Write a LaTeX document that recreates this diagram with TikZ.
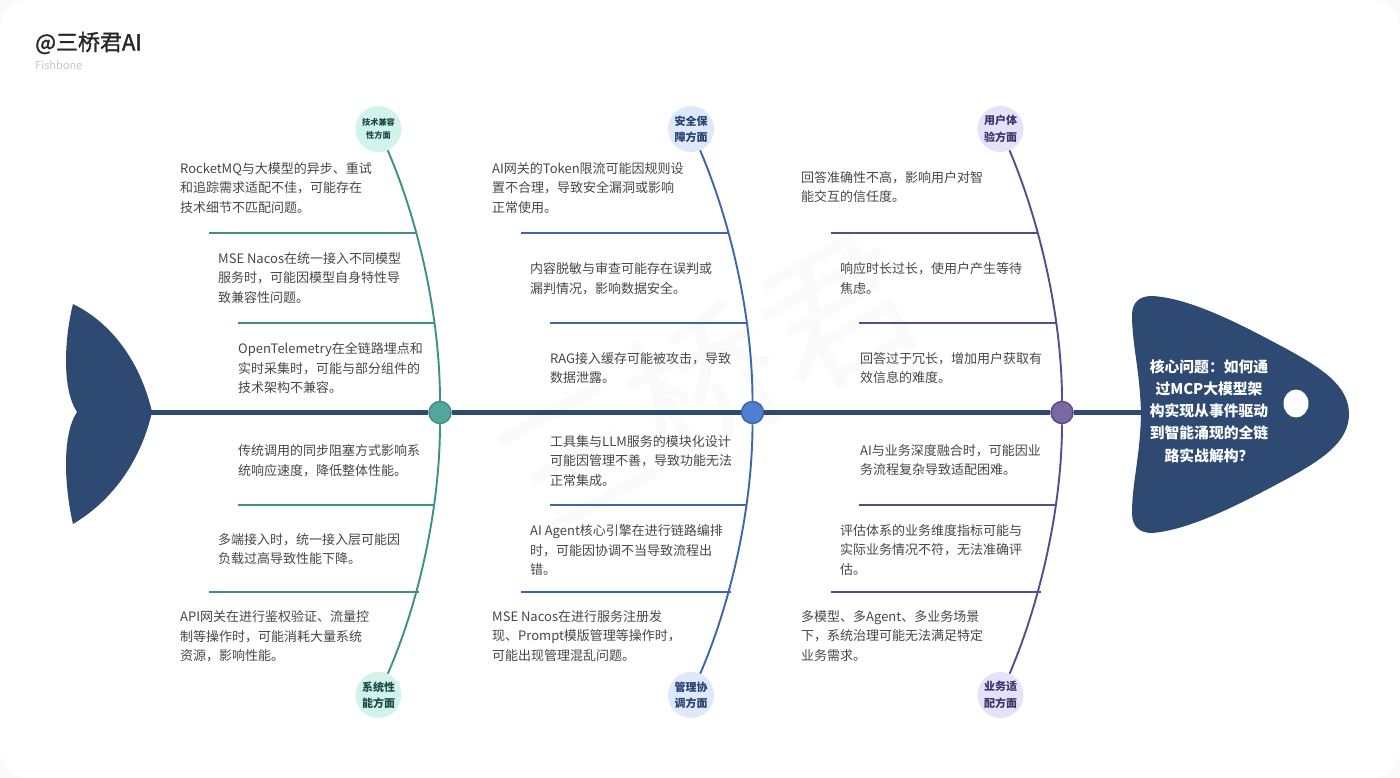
\documentclass[tikz,border=0pt]{standalone}
\usepackage{fontspec}
\setmainfont{Noto Sans CJK SC}
\newfontfamily\titlefont[FakeBold=1.5]{Noto Sans CJK SC}
\newcommand{\zhc}{\char"FF0C\relax}
\newcommand{\zhd}{\char"FF1A\relax}
\newcommand{\zhq}{\char"FF1F\relax}
\tikzset{
  ribtext/.style={anchor=north west,align=left,inner sep=0pt,text=black!72,font=\fontsize{13}{19.8}\selectfont},
  head/.style={circle,minimum size=46pt,inner sep=0pt,align=center,font=\fontsize{11}{16.4}\bfseries\selectfont,execute at begin node={\rule{0pt}{16.5pt}}},
  joint/.style={circle,minimum size=22pt,inner sep=0pt,line width=1.5pt},
  bone/.style={line width=1.9pt},
  rib/.style={line width=1.6pt},
}
\definecolor{fishblue}{HTML}{2F4A72}
\definecolor{tealbone}{HTML}{3F8F87}
\definecolor{tealfill}{HTML}{55A79D}
\definecolor{teallight}{HTML}{D2F2EC}
\definecolor{tealtext}{HTML}{1C4A44}
\definecolor{bluebone}{HTML}{3D66AD}
\definecolor{bluefill}{HTML}{4F80CF}
\definecolor{bluelight}{HTML}{DDE8FB}
\definecolor{bluetext}{HTML}{27406E}
\definecolor{purplebone}{HTML}{5A4A8F}
\definecolor{purplefill}{HTML}{7B6AA0}
\definecolor{purplelight}{HTML}{E3E2F8}
\definecolor{purpletext}{HTML}{3A3468}
\begin{document}
\begin{tikzpicture}[x=1pt,y=-1pt]
\useasboundingbox (0,0) rectangle (1400,778);
\fill[black!2] (0,0) rectangle (1400,778);
\fill[white,rounded corners=28pt] (0,0) rectangle (1400,778);

% watermark
\node[rotate=29,text=black!1.8,font=\fontsize{150}{150}\selectfont,inner sep=0pt] (mark) at (705,385) {三桥君};

% title
\node[anchor=west,inner sep=0pt,font=\fontsize{22}{22}\titlefont\selectfont,text=black!85] (title) at (35,43) {@三桥君AI};
\node[anchor=west,inner sep=0pt,font=\fontsize{11}{11}\selectfont,text=black!22] (subtitle) at (35,65.5) {Fishbone};

% tail and head
\fill[fishblue] (152,412) .. controls (140,360) and (110,322) .. (73,304) .. controls (65,335) and (61,388) .. (77,412) .. controls (61,436) and (65,490) .. (73,524) .. controls (110,502) and (140,464) .. (152,412) -- cycle;
\fill[fishblue] (1141,414) .. controls (1140,370) and (1132,345) .. (1132,315) .. controls (1132,302) and (1140,296) .. (1152,296) .. controls (1190,298) and (1240,324) .. (1283,347) .. controls (1320,367) and (1349,385) .. (1349,414) .. controls (1349,443) and (1320,461) .. (1283,481) .. controls (1240,504) and (1190,530) .. (1152,533) .. controls (1140,533) and (1132,527) .. (1132,513) .. controls (1132,483) and (1140,458) .. (1141,414) -- cycle;
\fill[white] (1296,403.5) ellipse (12.5 and 14);
\node[inner sep=0pt,align=center,text=white,font=\fontsize{14.8}{22.3}\bfseries\selectfont] (problem) at (1209,411) {核心问题\zhd 如何通\\过MCP大模型架\\构实现从事件驱动\\到智能涌现的全链\\路实战解构\zhq};
\coordinate (tailjoint) at (150,412.5);
\coordinate (headjoint) at (1142,412.5);

% joints on the spine
\node[joint,fill=tealfill,draw=tealbone] (tj) at (440,412.5) {};
\node[joint,fill=bluefill,draw=bluebone] (bj) at (752.5,412.5) {};
\node[joint,fill=purplefill,draw=purplebone] (pj) at (1062,412.5) {};
\draw[line width=5.5pt,fishblue] (tailjoint)--(tj);
\draw[line width=5.5pt,fishblue] (tj)--(bj);
\draw[line width=5.5pt,fishblue] (bj)--(pj);
\draw[line width=5.5pt,fishblue] (pj)--(headjoint);

% circles
\node[head,fill=teallight,text=tealtext,font=\fontsize{8.2}{13}\bfseries\selectfont,execute at begin node={\rule{0pt}{12.5pt}}] (techcompat) at (378.5,129) {技术兼容\\性方面};
\node[head,fill=teallight,text=tealtext] (sysperf) at (378.5,695) {系统性\\能方面};
\node[head,fill=bluelight,text=bluetext] (security) at (691,129) {安全保\\障方面};
\node[head,fill=bluelight,text=bluetext] (manage) at (691,695) {管理协\\调方面};
\node[head,fill=purplelight,text=purpletext] (userexp) at (1000.5,129) {用户体\\验方面};
\node[head,fill=purplelight,text=purpletext] (bizfit) at (1000.5,695) {业务适\\配方面};

% bones
\draw[bone,tealbone] (techcompat) .. controls (420,225) and (440,320) .. (tj);
\draw[bone,tealbone] (sysperf) .. controls (420,600) and (440,505) .. (tj);
\draw[bone,bluebone] (security) .. controls (732,225) and (752.5,320) .. (bj);
\draw[bone,bluebone] (manage) .. controls (732,600) and (752.5,505) .. (bj);
\draw[bone,purplebone] (userexp) .. controls (1041,225) and (1062,320) .. (pj);
\draw[bone,purplebone] (bizfit) .. controls (1041,600) and (1062,505) .. (pj);

% ribs
\coordinate (ta1) at (209,233); \coordinate (ta2) at (416,233);
\coordinate (tb1) at (238,323); \coordinate (tb2) at (434,323);
\coordinate (tc1) at (238,505); \coordinate (tc2) at (435,505);
\coordinate (td1) at (209,592); \coordinate (td2) at (419,592);
\draw[rib,tealbone] (ta1)--(ta2);
\draw[rib,tealbone] (tb1)--(tb2);
\draw[rib,tealbone] (tc1)--(tc2);
\draw[rib,tealbone] (td1)--(td2);
\coordinate (ba1) at (521,233); \coordinate (ba2) at (728,233);
\coordinate (bb1) at (550,323); \coordinate (bb2) at (746,323);
\coordinate (bc1) at (550,505); \coordinate (bc2) at (747,505);
\coordinate (bd1) at (521,592); \coordinate (bd2) at (731,592);
\draw[rib,bluebone] (ba1)--(ba2);
\draw[rib,bluebone] (bb1)--(bb2);
\draw[rib,bluebone] (bc1)--(bc2);
\draw[rib,bluebone] (bd1)--(bd2);
\coordinate (pa1) at (831,233); \coordinate (pa2) at (1037,233);
\coordinate (pb1) at (859,323); \coordinate (pb2) at (1056,323);
\coordinate (pc1) at (859,505); \coordinate (pc2) at (1057,505);
\coordinate (pd1) at (831,592); \coordinate (pd2) at (1041,592);
\draw[rib,purplebone] (pa1)--(pa2);
\draw[rib,purplebone] (pb1)--(pb2);
\draw[rib,purplebone] (pc1)--(pc2);
\draw[rib,purplebone] (pd1)--(pd2);

% teal texts
\node[ribtext] (t1) at (180,162) {RocketMQ与大模型的异步、重试\\和追踪需求适配不佳\zhc 可能存在\\技术细节不匹配问题。};
\node[ribtext] (t2) at (218,252) {MSE Nacos在统一接入不同模型\\服务时\zhc 可能因模型自身特性导\\致兼容性问题。};
\node[ribtext] (t3) at (238,342) {OpenTelemetry在全链路埋点和\\实时采集时\zhc 可能与部分组件的\\技术架构不兼容。};
\node[ribtext] (t4) at (238,444) {传统调用的同步阻塞方式影响系\\统响应速度\zhc 降低整体性能。};
\node[ribtext] (t5) at (218,533) {多端接入时\zhc 统一接入层可能因\\负载过高导致性能下降。};
\node[ribtext] (t6) at (180,610) {API网关在进行鉴权验证、流量控\\制等操作时\zhc 可能消耗大量系统\\资源\zhc 影响性能。};

% blue texts
\node[ribtext] (b1) at (492,162) {AI网关的Token限流可能因规则设\\置不合理\zhc 导致安全漏洞或影响\\正常使用。};
\node[ribtext] (b2) at (530,262) {内容脱敏与审查可能存在误判或\\漏判情况\zhc 影响数据安全。};
\node[ribtext] (b3) at (550,352) {RAG接入缓存可能被攻击\zhc 导致\\数据泄露。};
\node[ribtext] (b4) at (550,435) {工具集与LLM服务的模块化设计\\可能因管理不善\zhc 导致功能无法\\正常集成。};
\node[ribtext] (b5) at (530,524) {AI Agent核心引擎在进行链路编排\\时\zhc 可能因协调不当导致流程出\\错。};
\node[ribtext] (b6) at (492,610) {MSE Nacos在进行服务注册发\\现、Prompt模版管理等操作时\zhc \\可能出现管理混乱问题。};

% purple texts
\node[ribtext] (p1) at (801,171) {回答准确性不高\zhc 影响用户对智\\能交互的信任度。};
\node[ribtext] (p2) at (840,262) {响应时长过长\zhc 使用户产生等待\\焦虑。};
\node[ribtext] (p3) at (860,352) {回答过于冗长\zhc 增加用户获取有\\效信息的难度。};
\node[ribtext] (p4) at (860,444) {AI与业务深度融合时\zhc 可能因业\\务流程复杂导致适配困难。};
\node[ribtext] (p5) at (840,524) {评估体系的业务维度指标可能与\\实际业务情况不符\zhc 无法准确评\\估。};
\node[ribtext] (p6) at (801,610) {多模型、多Agent、多业务场景\\下\zhc 系统治理可能无法满足特定\\业务需求。};
\end{tikzpicture}
\end{document}
